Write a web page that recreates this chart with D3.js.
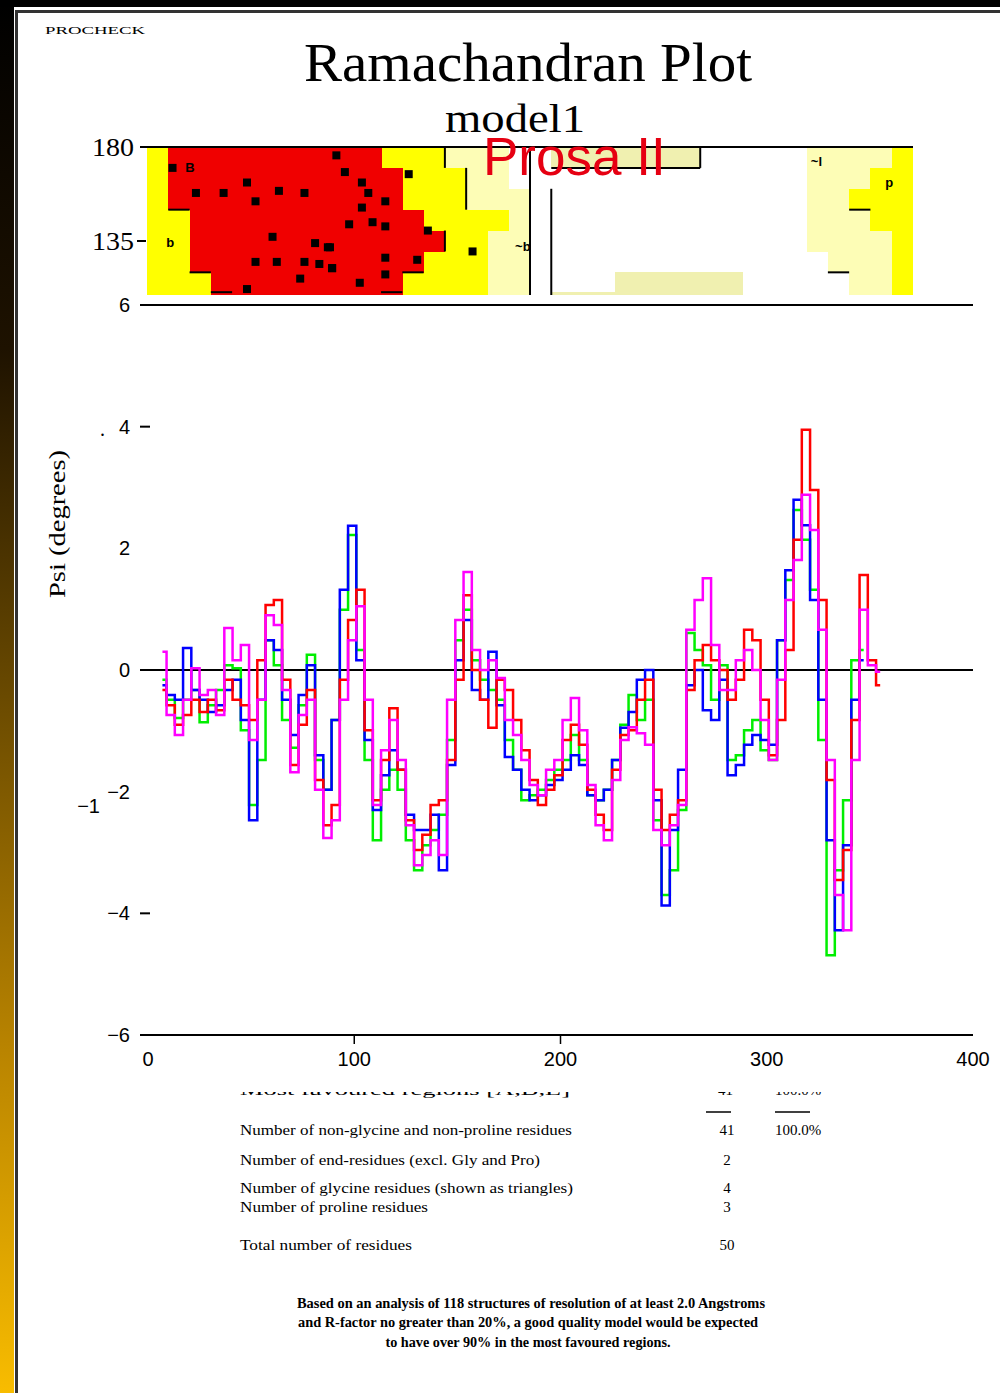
<html>
<head>
<meta charset="utf-8" />
<script src="https://d3js.org/d3.v7.min.js"></script>
<style>
  body { margin: 0; background: #fff; }
  svg { display: block; }
  text { font-family: "Liberation Serif", serif; fill: #000; }
  text.sans { font-family: "Liberation Sans", Arial, sans-serif; }
</style>
</head>
<body>
<svg id="chart" width="1000" height="1393"></svg>
<script>
// ---- Prosa II energy profiles (window averaged), sampled every 4 residues from residue 7
const residues = d3.range(7, 356, 4)
const energyRed = [-0.33,-0.58,-0.9,-0.74,-0.49,-0.69,-0.49,-0.66,-0.16,-0.49,
  -0.58,-0.82,0.16,1.07,1.15,-0.16,-1.56,-0.9,-0.33,-1.81,
  -2.55,-2.22,-0.16,0.82,1.32,-0.99,-2.14,-1.48,-0.63,-1.64,
  -2.47,-2.96,-2.71,-2.22,-2.14,-1.48,-0.16,1.23,0,-0.49,
  -0.95,-0.16,-0.33,-0.82,-1.32,-1.81,-2.22,-1.97,-1.73,-1.15,
  -0.9,-1.23,-1.97,-2.38,-2.63,-1.64,-1.07,-0.99,-0.49,-0.16,
  -1.97,-2.63,-2.38,-2.14,-0.33,0.16,0.41,0.16,0,-0.49,
  -0.16,0.66,0.49,-0.49,-1.4,-0.82,0.33,2.14,3.95,2.96,
  1.15,-1.81,-3.45,-2.96,-0.82,1.56,0.16,-0.25]
const energyGreen = [-0.16,-0.49,-0.79,-0.49,-0.33,-0.86,-0.58,-0.33,0.08,0.03,
  -0.99,-2.22,-1.48,0.49,0.08,-0.82,-1.28,-0.58,0.25,-1.48,
  -1.97,-0.82,0.99,2.22,0.33,-1.48,-2.8,-1.97,-1.64,-1.97,
  -2.8,-3.29,-2.88,-2.63,-2.38,-1.15,0.49,0.99,0.16,-0.16,
  -0.33,-0.49,-1.15,-1.64,-2.14,-2.06,-1.97,-1.81,-1.64,-1.48,
  -1.07,-1.48,-2.06,-2.14,-1.97,-1.48,-0.9,-0.41,-0.82,-0.49,
  -2.47,-3.7,-3.29,-2.3,0.61,0.33,0.08,-0.49,0.08,-1.48,
  -1.4,-0.99,-0.82,-1.32,-1.48,0.49,1.48,2.63,2.14,1.32,
  -1.15,-4.69,-3.29,-2.14,0.16,0.33]
const energyBlue = [-0.25,-0.41,-0.49,0.36,-0.33,-0.49,-0.69,-0.58,-0.33,-0.16,
  -0.82,-2.47,-0.49,0.49,0.33,-0.49,-1.07,-0.41,0.08,-1.4,
  -1.97,-0.82,1.32,2.37,0.16,-1.15,-2.3,-1.73,-1.32,-1.64,
  -2.38,-2.63,-2.63,-2.38,-3.29,-1.56,0.16,0.82,-0.33,-0.49,
  0.3,-0.58,-1.43,-1.64,-1.97,-2.14,-2.06,-1.89,-1.81,-1.64,
  -1.4,-1.56,-2.06,-2.14,-1.97,-1.48,-0.95,-0.69,-0.16,0,
  -2.14,-3.87,-2.63,-1.64,-0.25,0,-0.66,-0.82,-0.16,-1.73,
  -1.56,-1.23,-1.07,-1.15,-1.23,0.49,1.64,2.8,2.38,1.15,
  -0.49,-2.8,-4.28,-2.88,-0.49,0.16]
const energyMagenta = [0.3,-0.74,-1.07,-0.49,0.03,-0.41,-0.33,-0.74,0.69,0.16,
  0.41,-1.15,-0.49,0.9,0.74,-0.33,-1.68,-0.74,-0.49,-1.97,
  -2.76,-2.47,-0.49,0.49,1.05,-0.49,-2.22,-1.32,-0.82,-1.48,
  -2.55,-3.21,-3.04,-2.8,-3.04,-0.49,0.82,1.61,0.33,0,
  0.16,-0.13,-0.82,-1.07,-1.48,-1.89,-2.06,-1.64,-1.48,-0.82,
  -0.46,-0.99,-1.89,-2.55,-2.8,-1.81,-1.15,-0.94,-1.04,-1.23,
  -2.63,-2.88,-2.55,-2.22,0.66,1.15,1.51,0.41,-0.33,-0.33,
  0.16,0.33,0,-0.82,-1.48,-0.16,1.15,1.81,2.88,2.3,
  0.66,-1.48,-3.7,-4.28,-1.48,0.99,0.08,-0.03]
const seriesColors = ["#00ee00", "#0000ff", "#ff0000", "#ff00ff"]
const xTicks = [0, 100, 200, 300, 400]
const yTicks = [6, 4, 2, 0, -2, -4, -6]

// ---- Ramachandran fragment (phi, psi in degrees)
const coreCells = [[-170,-70,170,180],[-170,-60,150,170],[-160,-50,140,150],
  [-160,-40,130,140],[-160,-50,120,130],[-150,-60,100,120]]
const allowedCells = [[-180,-170,100,180],[-170,-160,100,150],[-160,-150,100,120],
  [-70,-40,170,180],[-60,-30,150,170],[-50,-10,140,150],[-40,-20,130,140],
  [-50,-20,120,130],[-60,-20,100,120],
  [170,180,100,180],[160,170,140,170],[150,160,150,160]]
const generousCells = [[-40,-10,160,180],[-30,-10,150,160],[-10,0,100,160],[-20,-10,100,140],
  [130,170,130,180],[140,170,120,130],[150,170,100,120]]
const paleCells = [[10,80,170,180],[40,100,100,120],[10,40,100,110.5]]
const borderSegs = [[-40,170,-40,180],[-30,150,-30,170],[0,100,0,180],[10,100,10,160],
  [10,170,80,170],[80,170,80,180],[150,150,160,150],[140,120,150,120],
  [-170,150,-160,150],[-160,120,-150,120],[-150,110.5,-140,110.5],
  [-40,130,-40,140],[-60,120,-50,120],[-70,110.5,-60,110.5]]
const phiPsi = [[-168,170],[-157,158],[-144,158],[-133,163],[-129,154],[-118,159],[-106,158],
  [-91,176],[-121,137],[-101,134],[-95,132],[-129,125],[-119,125],[-106,125],[-99,124],
  [-93,122],[-108,117],[-133,112],[-87,168],[-79,163],[-76,158],[-79,151],[-68,154],
  [-85,143],[-74,144],[-68,142],[-57,167],[-48,140],[-94,132],[-68,127],[-53,126],
  [-93,122],[-68,119],[-80,115],[-27,130]]
const regionLabels = [["B",-162,168],["b",-171,132],["~b",-7,130],["~l",132,171],["p",167,161]]

// ---- statistics text
const statRows = [
  ["Number of non-glycine and non-proline residues", "41", "100.0%", 1135],
  ["Number of end-residues (excl. Gly and Pro)", "2", "", 1165],
  ["Number of glycine residues (shown as triangles)", "4", "", 1193],
  ["Number of proline residues", "3", "", 1212],
  ["Total number of residues", "50", "", 1250]]
const footLines = [
  "Based on an analysis of 118 structures of resolution of at least 2.0 Angstroms",
  "and R-factor no greater than 20%, a good quality model would be expected",
  "to have over 90% in the most favoured regions."]

const svg = d3.select("#chart")
const defs = svg.append("defs")
const grad = defs.append("linearGradient").attr("id", "side").attr("x1", 0).attr("y1", 0).attr("x2", 0).attr("y2", 1)
grad.selectAll("stop").data([[0,"#000"],[0.25,"#1e1200"],[0.5,"#6a4a00"],[0.75,"#b88300"],[1,"#f8bc00"]])
  .enter().append("stop").attr("offset", d => d[0]).attr("stop-color", d => d[1])

svg.append("rect").attr("width", 1000).attr("height", 1393).attr("fill", "#fff")
svg.append("rect").attr("x", 0).attr("y", 0).attr("width", 14).attr("height", 1393).attr("fill", "url(#side)")
svg.append("rect").attr("x", 0).attr("y", 0).attr("width", 1000).attr("height", 7).attr("fill", "#000")
svg.append("path").attr("d", "M16.5,1393 V11.5 H1000").attr("fill", "none").attr("stroke", "#333").attr("stroke-width", 3)

svg.append("text").attr("x", 45).attr("y", 34).attr("font-size", 11).attr("textLength", 100)
  .attr("lengthAdjust", "spacingAndGlyphs").text("PROCHECK")
svg.append("text").attr("x", 528).attr("y", 81).attr("text-anchor", "middle").attr("font-size", 54)
  .attr("textLength", 448).attr("lengthAdjust", "spacingAndGlyphs").text("Ramachandran Plot")
svg.append("text").attr("x", 515).attr("y", 132).attr("text-anchor", "middle").attr("font-size", 40)
  .attr("textLength", 140).attr("lengthAdjust", "spacingAndGlyphs").text("model1")

// ---- Ramachandran fragment
const rx = d3.scaleLinear().domain([-180, 180]).range([147, 913])
const ry = d3.scaleLinear().domain([180, 135]).range([147, 241])
defs.append("clipPath").attr("id", "rama").append("rect")
  .attr("x", 147).attr("y", 147).attr("width", 766).attr("height", 148)
const rama = svg.append("g").attr("clip-path", "url(#rama)")
function cells(data, color) {
  rama.append("g").attr("shape-rendering", "crispEdges").selectAll("rect").data(data).enter().append("rect")
    .attr("x", d => rx(d[0])).attr("width", d => rx(d[1]) - rx(d[0]) + 0.6)
    .attr("y", d => ry(d[3])).attr("height", d => ry(d[2]) - ry(d[3]) + 0.6)
    .attr("fill", color)
}
cells(paleCells, "#f0f0b0")
cells(generousCells, "#fdfdb6")
cells(allowedCells, "#ffff00")
cells(coreCells, "#f00000")
rama.append("g").selectAll("line").data(borderSegs).enter().append("line")
  .attr("x1", d => rx(d[0])).attr("y1", d => ry(d[1])).attr("x2", d => rx(d[2])).attr("y2", d => ry(d[3]))
  .attr("stroke", "#000").attr("stroke-width", 2)
rama.append("g").selectAll("rect").data(phiPsi).enter().append("rect")
  .attr("x", d => rx(d[0]) - 4).attr("y", d => ry(d[1]) - 4).attr("width", 8).attr("height", 8).attr("fill", "#000")
rama.append("g").selectAll("text").data(regionLabels).enter().append("text").attr("class", "sans")
  .attr("x", d => rx(d[1])).attr("y", d => ry(d[2])).attr("font-size", 13).attr("font-weight", "bold")
  .text(d => d[0])
svg.append("line").attr("x1", 140).attr("x2", rx(180)).attr("y1", ry(180)).attr("y2", ry(180))
  .attr("stroke", "#000").attr("stroke-width", 2)
svg.append("line").attr("x1", 137).attr("x2", 146).attr("y1", ry(135)).attr("y2", ry(135))
  .attr("stroke", "#000").attr("stroke-width", 2)
svg.selectAll("text.rtick").data([180, 135]).enter().append("text").attr("class", "rtick")
  .attr("x", 134).attr("y", d => ry(d) + 9).attr("text-anchor", "end")
  .attr("font-size", 26).attr("textLength", 42).attr("lengthAdjust", "spacingAndGlyphs").text(d => d)

svg.append("text").attr("class", "sans").attr("x", 483).attr("y", 175).attr("font-size", 53)
  .style("fill", "#e60012").text("Prosa II")

// ---- Prosa energy plot
const x = d3.scaleLinear().domain([0, 400]).range([148, 973])
const y = d3.scaleLinear().domain([-6, 6]).range([1035, 305])
svg.selectAll("line.hline").data([6, 0, -6]).enter().append("line").attr("class", "hline")
  .attr("x1", 140).attr("x2", 973).attr("y1", d => y(d)).attr("y2", d => y(d))
  .attr("stroke", "#000").attr("stroke-width", 2)
svg.selectAll("line.xt").data([100, 200]).enter().append("line").attr("class", "xt")
  .attr("x1", d => x(d)).attr("x2", d => x(d)).attr("y1", y(-6)).attr("y2", y(-6) + 9)
  .attr("stroke", "#000").attr("stroke-width", 1.5)
svg.selectAll("line.yt").data([4, -4]).enter().append("line").attr("class", "yt")
  .attr("x1", 140).attr("x2", 150).attr("y1", d => y(d)).attr("y2", d => y(d))
  .attr("stroke", "#000").attr("stroke-width", 2)
svg.selectAll("text.ylab").data(yTicks).enter().append("text").attr("class", "ylab sans")
  .attr("x", 130).attr("y", d => y(d) + 7).attr("text-anchor", "end").attr("font-size", 20)
  .text(d => d < 0 ? "\u2212" + (-d) : d)
svg.selectAll("text.xlab").data(xTicks).enter().append("text").attr("class", "xlab sans")
  .attr("x", d => x(d)).attr("y", 1066).attr("text-anchor", "middle").attr("font-size", 20)
  .text(d => d)
svg.append("text").attr("class", "sans").attr("x", 100).attr("y", 813).attr("text-anchor", "end")
  .attr("font-size", 20).text("\u22121")
svg.append("text").attr("x", 100).attr("y", 436).attr("font-size", 20).text(".")
svg.append("text").attr("transform", "translate(65,524) rotate(-90)").attr("text-anchor", "middle")
  .attr("font-size", 23).attr("textLength", 148).attr("lengthAdjust", "spacingAndGlyphs").text("Psi (degrees)")

const line = d3.line().x((d, i) => x(residues[i])).y(d => y(d)).curve(d3.curveStep)
svg.append("g").selectAll("path").data([energyGreen, energyBlue, energyRed, energyMagenta]).enter()
  .append("path").attr("d", line).attr("fill", "none")
  .attr("stroke", (d, i) => seriesColors[i]).attr("stroke-width", 2.5)

// ---- statistics block
defs.append("clipPath").attr("id", "cut").append("rect").attr("x", 0).attr("y", 1092).attr("width", 1000).attr("height", 20)
const cut = svg.append("g").attr("clip-path", "url(#cut)").attr("font-size", 15)
cut.append("text").attr("x", 240).attr("y", 1095).attr("textLength", 330).attr("lengthAdjust", "spacingAndGlyphs")
  .text("Most favoured regions     [A,B,L]")
cut.append("text").attr("x", 718).attr("y", 1095).text("41")
cut.append("text").attr("x", 775).attr("y", 1095).text("100.0%")
svg.selectAll("line.ul").data([[706, 731], [775, 810]]).enter().append("line").attr("class", "ul")
  .attr("x1", d => d[0]).attr("x2", d => d[1]).attr("y1", 1112).attr("y2", 1112)
  .attr("stroke", "#000").attr("stroke-width", 1.5)
const widths = [332, 300, 333, 188, 172]
const rows = svg.append("g").attr("font-size", 15)
rows.selectAll("text.lab").data(statRows).enter().append("text").attr("class", "lab")
  .attr("x", 240).attr("y", d => d[3]).attr("textLength", (d, i) => widths[i])
  .attr("lengthAdjust", "spacingAndGlyphs").text(d => d[0])
rows.selectAll("text.val").data(statRows).enter().append("text").attr("class", "val")
  .attr("x", 727).attr("y", d => d[3]).attr("text-anchor", "middle").text(d => d[1])
rows.selectAll("text.pct").data(statRows).enter().append("text").attr("class", "pct")
  .attr("x", 775).attr("y", d => d[3]).text(d => d[2])

const footWidths = [[531, 468], [528, 460], [528, 285]]
svg.selectAll("text.foot").data(footLines).enter().append("text").attr("class", "foot")
  .attr("x", (d, i) => footWidths[i][0]).attr("y", (d, i) => [1308, 1327, 1347][i])
  .attr("text-anchor", "middle").attr("font-size", 14).attr("font-weight", "bold")
  .attr("textLength", (d, i) => footWidths[i][1]).attr("lengthAdjust", "spacingAndGlyphs").text(d => d)
</script>
</body>
</html>
